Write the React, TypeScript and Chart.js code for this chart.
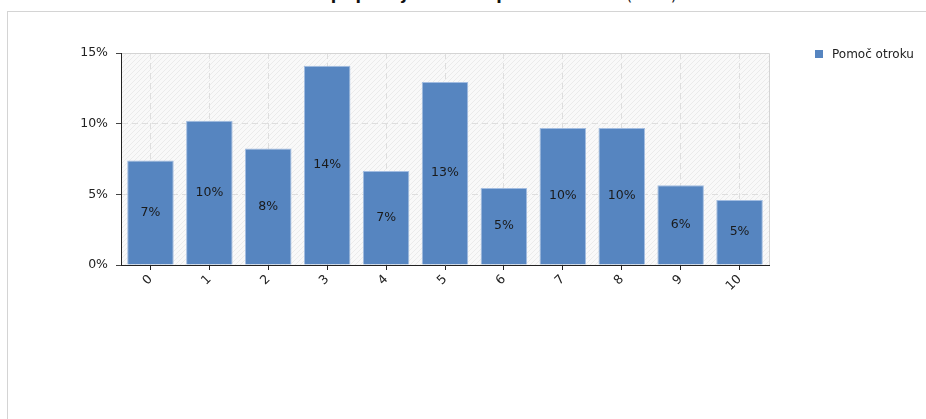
import React, { useEffect, useRef } from "react";
import { Chart, registerables } from "chart.js";

Chart.register(...registerables);

const categories = ["0", "1", "2", "3", "4", "5", "6", "7", "8", "9", "10"];
const seriesName = "Pomoč otroku";
const seriesValues = [7.4, 10.2, 8.25, 14.1, 6.65, 12.95, 5.45, 9.7, 9.7, 5.65, 4.6];
const yTickValues = [0, 5, 10, 15];
const titleMain = "Ocena pripravljenosti na pomoč otroku";
const titleSub = " (0–10)";

const FONT = "'DejaVu Sans', Verdana, sans-serif";
const BAR_COLOR = "#5685c0";

function makePattern(ctx: CanvasRenderingContext2D) {
  const c = document.createElement("canvas");
  c.width = 5;
  c.height = 5;
  const p = c.getContext("2d")!;
  p.fillStyle = "#f9f9f9";
  p.fillRect(0, 0, 5, 5);
  p.strokeStyle = "#ebebeb";
  p.lineWidth = 1;
  p.beginPath();
  p.moveTo(0, 5);
  p.lineTo(5, 0);
  p.moveTo(-1, 1);
  p.lineTo(1, -1);
  p.moveTo(4, 6);
  p.lineTo(6, 4);
  p.stroke();
  return ctx.createPattern(c, "repeat");
}

const bgPlugin = {
  id: "plotBg",
  beforeDraw(chart: any) {
    const { ctx, chartArea: a } = chart;
    ctx.save();
    const pat = makePattern(ctx);
    ctx.fillStyle = pat || "#f8f8f8";
    ctx.fillRect(a.left, a.top, a.right - a.left, a.bottom - a.top);
    ctx.restore();
  },
  afterDraw(chart: any) {
    const { ctx, chartArea: a } = chart;
    ctx.save();
    ctx.strokeStyle = "#d4d4d4";
    ctx.lineWidth = 1;
    ctx.beginPath();
    ctx.moveTo(a.left + 1, Math.round(a.top) + 0.5);
    ctx.lineTo(Math.round(a.right) + 0.5, Math.round(a.top) + 0.5);
    ctx.lineTo(Math.round(a.right) + 0.5, a.bottom);
    ctx.stroke();
    ctx.restore();
  },
};

const labelPlugin = {
  id: "barLabels",
  afterDatasetsDraw(chart: any) {
    const { ctx } = chart;
    const meta = chart.getDatasetMeta(0);
    ctx.save();
    ctx.font = `12.5px ${FONT}`;
    ctx.fillStyle = "#1a1a1a";
    ctx.textAlign = "center";
    ctx.textBaseline = "middle";
    meta.data.forEach((bar: any, i: number) => {
      const v = chart.data.datasets[0].data[i] as number;
      ctx.fillText(`${Math.round(v)}%`, bar.x, (bar.y + bar.base) / 2);
    });
    ctx.restore();
  },
};

const legendPlugin = {
  id: "sideLegend",
  afterDraw(chart: any) {
    const { ctx, chartArea: a } = chart;
    const x = a.right + 46;
    const y = a.top + 1;
    ctx.save();
    ctx.fillStyle = BAR_COLOR;
    ctx.fillRect(x, y - 4, 8, 8);
    ctx.font = `12px ${FONT}`;
    ctx.fillStyle = "#222";
    ctx.textAlign = "left";
    ctx.textBaseline = "middle";
    ctx.fillText(chart.data.datasets[0].label, x + 17, y + 1);
    ctx.restore();
  },
};

export default function App() {
  const ref = useRef<HTMLCanvasElement | null>(null);

  useEffect(() => {
    if (!ref.current) return;
    const chart = new Chart(ref.current, {
      type: "bar",
      data: {
        labels: categories,
        datasets: [
          {
            label: seriesName,
            data: seriesValues,
            backgroundColor: BAR_COLOR,
            borderColor: "#a3bde1",
            borderWidth: 1,
            barPercentage: 0.79,
            categoryPercentage: 1,
          },
        ],
      },
      options: {
        responsive: false,
        animation: false,
        layout: { padding: { left: 0, top: 41, right: 157, bottom: 7 } },
        plugins: {
          legend: { display: false },
          tooltip: { enabled: false },
          title: { display: false },
        },
        scales: {
          x: {
            offset: true,
            grid: {
              offset: false,
              color: "#dedede",
              drawOnChartArea: true,
              tickLength: 5,
              tickColor: "#222",
              tickBorderDash: [],
            },
            border: { display: true, color: "#222", width: 1, dash: [6, 4] },
            ticks: {
              minRotation: 45,
              maxRotation: 45,
              padding: 2,
              color: "#222",
              font: { family: FONT, size: 12.5 },
            },
            afterFit(scale: any) {
              scale.height = 40;
            },
          },
          y: {
            min: 0,
            max: 15,
            afterBuildTicks(scale: any) {
              scale.ticks = yTickValues.map((v) => ({ value: v }));
            },
            grid: {
              color: "#dedede",
              tickLength: 5,
              tickColor: "#444",
              tickBorderDash: [],
            },
            border: { display: true, color: "#222", width: 1, dash: [6, 4] },
            ticks: {
              padding: 8,
              color: "#222",
              font: { family: FONT, size: 12.5 },
              callback: (v: any) => `${v}%`,
            },
            afterFit(scale: any) {
              scale.width = 113;
            },
          },
        },
      },
      plugins: [bgPlugin, labelPlugin, legendPlugin],
    } as any);
    return () => chart.destroy();
  }, []);

  return (
    <div style={{ position: "fixed", left: 0, top: 0, width: 926, height: 419, overflow: "hidden", background: "#fff" }}>
      <div
        style={{
          position: "absolute",
          left: 7,
          top: 11,
          width: 932,
          height: 440,
          border: "1px solid #d4d4d4",
          boxSizing: "border-box",
        }}
      >
        <canvas ref={ref} width={918} height={300} style={{ display: "block", width: 918, height: 300 }} />
      </div>
      <div
        style={{
          position: "absolute",
          left: 7,
          top: -15,
          width: 932,
          textAlign: "center",
          fontFamily: FONT,
          fontSize: 16,
          lineHeight: "20px",
          color: "#111",
          whiteSpace: "nowrap",
        }}
      >
        <b>{titleMain}</b>
        <span>{titleSub}</span>
      </div>
    </div>
  );
}
